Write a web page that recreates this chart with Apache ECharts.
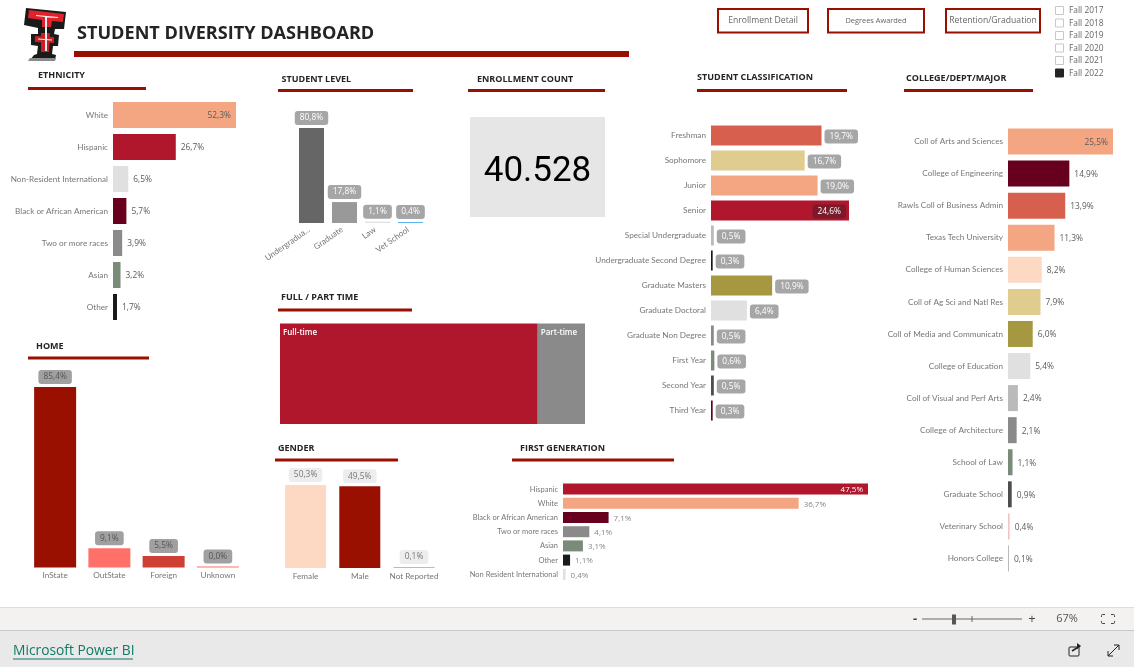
<!DOCTYPE html>
<html><head><meta charset="utf-8">
<style>html,body{margin:0;padding:0;background:#fff;overflow:hidden}#c{width:1134px;height:667px}</style>
<script src="https://cdn.jsdelivr.net/npm/echarts@6/dist/echarts.min.js"></script>
</head><body><div id="c"></div>
<script>
const FONT='"Open Sans","Noto Sans",sans-serif';
const AXFONT='Lato,"Open Sans",sans-serif';
const RED='#990F00', CRIM='#B0172C', PEACH='#F4A582', WINE='#67001F', GREY='#E0E0E0', MID='#8A8A8A', SAGE='#7A8B7A', INK='#1A1A1A', SALMON='#D6604D', SAND='#E0CC8F', OLIVE='#A69840', BLUSH='#FDD9C4', DARK='#4D4D4D', SILVER='#BABABA';

const ethnicityCats=['White','Hispanic','Non-Resident International','Black or African American','Two or more races','Asian','Other'];
const ethnicityVals=[52.3,26.7,6.5,5.7,3.9,3.2,1.7];
const ethnicityCols=[PEACH,CRIM,GREY,WINE,MID,SAGE,INK];

const levelCats=['Undergradua...','Graduate','Law','Vet School'];
const levelVals=[80.8,17.8,1.1,0.4];
const levelCols=['#666666','#999999',GREY,'#5AB4F0'];

const homeCats=['InState','OutState','Foreign','Unknown'];
const homeVals=[85.4,9.1,5.5,0.0];
const homeCols=[RED,'#FF7068','#CC4035','#FF7068'];

const genderCats=['Female','Male','Not Reported'];
const genderVals=[50.3,49.5,0.1];
const genderCols=[BLUSH,RED,SILVER];

const firstGenCats=['Hispanic','White','Black or African American','Two or more races','Asian','Other','Non Resident International'];
const firstGenVals=[47.5,36.7,7.1,4.1,3.1,1.1,0.4];
const firstGenCols=[CRIM,PEACH,WINE,MID,SAGE,INK,GREY];

const classCats=['Freshman','Sophomore','Junior','Senior','Special Undergraduate','Undergraduate Second Degree','Graduate Masters','Graduate Doctoral','Graduate Non Degree','First Year','Second Year','Third Year'];
const classVals=[19.7,16.7,19.0,24.6,0.5,0.3,10.9,6.4,0.5,0.6,0.5,0.3];
const classCols=[SALMON,SAND,PEACH,CRIM,SILVER,INK,OLIVE,GREY,MID,SAGE,DARK,WINE];

const collegeCats=['Coll of Arts and Sciences','College of Engineering','Rawls Coll of Business Admin','Texas Tech University','College of Human Sciences','Coll of Ag Sci and Natl Res','Coll of Media and Communicatn','College of Education','Coll of Visual and Perf Arts','College of Architecture','School of Law','Graduate School','Veterinary School','Honors College'];
const collegeVals=[25.5,14.9,13.9,11.3,8.2,7.9,6.0,5.4,2.4,2.1,1.1,0.9,0.4,0.1];
const collegeCols=[PEACH,WINE,SALMON,PEACH,BLUSH,SAND,OLIVE,GREY,SILVER,MID,SAGE,DARK,'#F4C2C2',SILVER];

const timeCats=['Full-time','Part-time'];
const timeVals=[84.5,15.5];
const timeCols=[CRIM,MID];

const enrollment='40.528';
const years=['Fall 2017','Fall 2018','Fall 2019','Fall 2020','Fall 2021','Fall 2022'];
const yearSelected=[0,0,0,0,0,1];

const pct=v=>v.toFixed(1).replace('.',',')+'%';
const grids=[],xAxes=[],yAxes=[],series=[];
const plainLabel={formatter:p=>pct(p.value),fontFamily:FONT,fontSize:8.4,color:'#5a5a5a',offset:[0,1]};
const badge={backgroundColor:'#A6A6A6',color:'#fff',borderRadius:3,padding:[3,5],fontSize:8.4};

function hbar(o){
  const i=grids.length;
  grids.push({left:o.left,top:o.top,width:o.w,height:o.h});
  xAxes.push({gridIndex:i,type:'value',min:0,max:o.max,show:false});
  yAxes.push({gridIndex:i,type:'category',inverse:true,data:o.cats,axisLine:{show:false},axisTick:{show:false},
    axisLabel:{interval:0,fontFamily:AXFONT,fontSize:o.axisFs||8.2,color:'#777',margin:o.margin||5}});
  series.push({type:'bar',xAxisIndex:i,yAxisIndex:i,barWidth:o.bw,barMinHeight:1,
    data:o.vals.map((v,k)=>({value:v,itemStyle:{color:o.cols[k]},label:(o.itemLabel&&o.itemLabel[k])||undefined})),
    label:Object.assign({show:true,position:'right',distance:o.dist||5},plainLabel,{fontSize:o.fs||8.4},o.label||{})});
}
function vbar(o){
  const i=grids.length;
  grids.push({left:o.left,top:o.top,width:o.w,height:o.h});
  xAxes.push({gridIndex:i,type:'category',data:o.cats,axisLine:{show:false},axisTick:{show:false},
    axisLabel:Object.assign({interval:0,fontFamily:AXFONT,fontSize:8.2,color:'#777',margin:4},o.axisLabel||{})});
  yAxes.push({gridIndex:i,type:'value',min:0,max:o.max,show:false});
  series.push({type:'bar',xAxisIndex:i,yAxisIndex:i,barWidth:o.bw,barMinHeight:1,
    data:o.vals.map((v,k)=>({value:v,itemStyle:{color:o.cols[k]}})),
    label:Object.assign({show:true,position:'top',distance:3},plainLabel,{offset:[0,0]},o.label||{})});
}

hbar({left:113,top:99,w:123,h:224,cats:ethnicityCats,vals:ethnicityVals,cols:ethnicityCols,max:52.3,bw:26,
  itemLabel:{0:{position:'insideRight',distance:5}}});
vbar({left:295,top:128,w:132,h:95,cats:levelCats,vals:levelVals,cols:levelCols,max:80.8,bw:25,
  label:badge,axisLabel:{rotate:35,margin:4,padding:[0,3,0,0]}});
vbar({left:28,top:387,w:217,h:180.5,cats:homeCats,vals:homeVals,cols:homeCols,max:85.4,bw:42,
  label:{backgroundColor:'#A0A0A0',color:'#555',borderRadius:3,padding:[3,5],fontSize:8.4}});
vbar({left:278.5,top:485,w:162.6,h:83,cats:genderCats,vals:genderVals,cols:genderCols,max:50.3,bw:41,
  label:{backgroundColor:'#EDEDED',color:'#777',borderRadius:3,padding:[3,5],fontSize:8.4}});
hbar({left:563,top:482,w:305,h:99.4,cats:firstGenCats,vals:firstGenVals,cols:firstGenCols,max:47.5,bw:11,fs:8,axisFs:7.5,
  label:{color:'#888'},itemLabel:{0:{position:'insideRight',distance:5,color:'#fff'}}});
hbar({left:711,top:123,w:138,h:300,cats:classCats,vals:classVals,cols:classCols,max:24.6,bw:20,
  label:badge,dist:3,itemLabel:{3:{position:'insideRight',distance:3,backgroundColor:'#7A1A2A',color:'#fff'}}});
hbar({left:1008,top:125.5,w:105,h:449,cats:collegeCats,vals:collegeVals,cols:collegeCols,max:25.5,bw:26,
  itemLabel:{0:{position:'insideRight',distance:5}}});

series.push({type:'treemap',left:280,top:323.5,width:305,height:100.5,roam:false,nodeClick:false,breadcrumb:{show:false},
  squareRatio:1,sort:'desc',
  itemStyle:{gapWidth:0,borderWidth:0},
  label:{show:true,position:'insideTopLeft',distance:0,padding:[5,0,0,3],overflow:'none',formatter:'{b}',fontFamily:FONT,fontSize:8,fontWeight:600,color:'#fff'},
  data:timeCats.map((n,k)=>({name:n,value:timeVals[k],itemStyle:{color:timeCols[k]}}))});

const g=[];
const text=(x,y,t,o={})=>g.push({type:'text',x,y,silent:true,style:Object.assign({text:t,fontFamily:FONT,fontSize:8,fill:'#666',textAlign:'left',textVerticalAlign:'middle'},o)});
const rect=(x,y,w,h,fill,o={})=>g.push({type:'rect',silent:true,shape:{x,y,width:w,height:h},style:Object.assign({fill},o)});
const poly=(pts,fill)=>g.push({type:'polygon',silent:true,shape:{points:pts},style:{fill}});
const line=(a,b,c,d,stroke,w=1)=>g.push({type:'line',silent:true,shape:{x1:a,y1:b,x2:c,y2:d},style:{stroke,lineWidth:w}});
const head=(t,x,y,a,b,ry)=>{text(x,y,t,{fontSize:9,fontWeight:700,fill:'#252423'});rect(a,ry-1.5,b-a,3,RED);};

// footer
rect(0,607,1134,23,'#F3F2F1');rect(0,607,1134,1,'#DEDEDE');rect(0,630,1134,37,'#E9E9E9');rect(0,630,1134,1,'#C8C8C8');
text(13,651,'Microsoft Power BI',{fontSize:13.8,fill:'#117865'});
rect(13,658.5,120,1,'#117865');
text(915,619,'-',{fontSize:13,fill:'#444',textAlign:'center',fontWeight:700});
line(922,619,1022,619,'#666');rect(952,614.5,4,10,'#555');line(972,616,972,622,'#666');
text(1032,619,'+',{fontSize:13,fill:'#444',textAlign:'center'});
text(1067,619,'67%',{fontSize:11,fill:'#555',textAlign:'center'});
g.push({type:'rect',silent:true,shape:{x:1101.5,y:614.5,width:13,height:9,r:1},style:{fill:'none',stroke:'#444'}});
line(1105,614.5,1111,614.5,'#F3F2F1',1.5);line(1105,623.5,1111,623.5,'#F3F2F1',1.5);line(1101.5,617,1101.5,621,'#F3F2F1',1.5);line(1114.5,617,1114.5,621,'#F3F2F1',1.5);
// share + expand icons
g.push({type:'rect',silent:true,shape:{x:1069,y:647,width:10,height:9,r:1},style:{fill:'none',stroke:'#222',lineWidth:1}});
line(1072,651,1080,646,'#222',1.5);poly([[1077,643],[1081,646],[1077,649]],'#222');
line(1108,656,1119,645,'#222',1);line(1114,645,1119,645,'#222',1);line(1119,645,1119,650,'#222',1);line(1108,651,1108,656,'#222',1);line(1108,656,1113,656,'#222',1);

// logo
poly([[26,8],[66,12],[64,29],[55,29],[54,34],[59,35],[58,46],[53,46],[52,54],[56,55],[55,60],[30,60],[34,55],[37,54],[38,46],[31,45],[31,34],[38,34],[38,28],[24,25]],'#1A1A1A');
poly([[29,10],[64,14],[63,22],[52,21],[51,27],[42,27],[42,20],[28,18]],'#E2222A');
poly([[41,33],[50,33],[49,52],[41,52]],'#C81E26');
poly([[35,36],[54,37],[54,43],[35,42]],'#C81E26');
poly([[36,15],[58,17],[58,18],[47,17.5],[47,51],[45,51],[45,17],[36,16]],'#EDEDED');
poly([[38,38.5],[52,39.5],[52,40.5],[38,39.5]],'#EDEDED');
poly([[30,58],[56,58],[55,61],[28,61]],'#8a8a8a');

text(77,34,'STUDENT DIVERSITY DASHBOARD',{fontSize:18.1,fontWeight:700,fill:'#252423'});
rect(74,51,555,6,RED);

head('ETHNICITY',38,75,28,146,88.5);
head('STUDENT LEVEL',281.5,79,278,413,90.5);
head('ENROLLMENT COUNT',477,79,468,605,90.5);
head('STUDENT CLASSIFICATION',697,77,697,847,90.5);
head('COLLEGE/DEPT/MAJOR',906,78,904,1033,90.5);
head('FULL / PART TIME',281,297,278,412,310);
head('HOME',36,346,28,149,358);
head('GENDER',278,448,275,398,460);
head('FIRST GENERATION',520,448,512,674,460);

rect(470,117,135,100,'#E6E6E6');
text(537.5,172,enrollment,{fontSize:35,fill:'#000',textAlign:'center',fontFamily:'"Roboto",sans-serif'});

text(283.5,423,pct(timeVals[0]),{fontSize:7.5,fontWeight:600,fill:'#fff',textVerticalAlign:'bottom'});
text(540.5,423,pct(timeVals[1]),{fontSize:7.5,fontWeight:600,fill:'#fff',textVerticalAlign:'bottom'});

[[717,92,'Enrollment Detail',8.6],[827,98,'Degrees Awarded',7.4],[945,96,'Retention/Graduation',8.6]].forEach(b=>{
  rect(b[0]+1,9,b[1]-2,23.5,'#fff',{stroke:RED,lineWidth:2});
  text(b[0]+b[1]/2,21,b[2],{fontSize:b[3],textAlign:'center',fill:'#666'});
});
const ysY=[11,23.5,36,48.5,61,73.5];
years.forEach((y,k)=>{
  rect(1055.5,ysY[k]-4.5,8,8,yearSelected[k]?'#252423':'#fff',{stroke:yearSelected[k]?'#252423':'#C8C8C8',lineWidth:1});
  text(1069,ysY[k],y,{fontSize:8.4,fill:'#666'});
});

echarts.init(document.getElementById('c')).setOption({
  animation:false,backgroundColor:'#fff',tooltip:{show:false},
  grid:grids,xAxis:xAxes,yAxis:yAxes,series,graphic:{elements:g}
});
</script></body></html>
